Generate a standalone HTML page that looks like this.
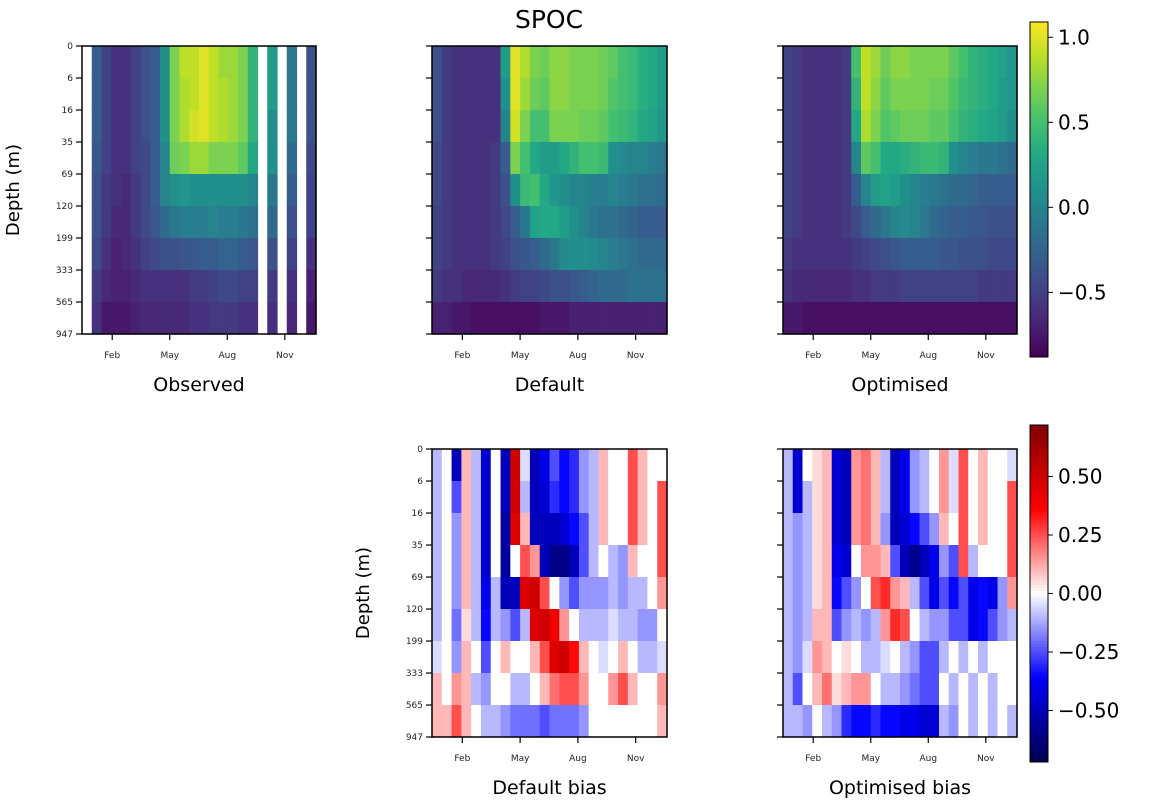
<!DOCTYPE html>
<html><head><meta charset="utf-8"><style>
body{margin:0;background:#fff;}
svg{display:block;font-family:"DejaVu Sans","Liberation Sans",sans-serif;}
</style></head><body>
<svg id="fig" width="1154" height="803" viewBox="0 0 1154 803" xmlns="http://www.w3.org/2000/svg">
<text x="549" y="28" font-size="25" text-anchor="middle">SPOC</text>
</svg>
<script>
const depthLabels=["0","6","16","35","69","120","199","333","565","947"];
const monthLabels=["Feb","May","Aug","Nov"];
const monthPos=[3.1,9.0,14.9,20.8];
const N=null;
const observed=[
[N,-0.3,-0.5,-0.6,-0.6,-0.5,-0.4,-0.3,0.1,0.7,0.9,0.9,1.0,0.9,0.8,0.8,0.7,0.4,N,0.2,N,-0.1,N,-0.4],
[N,-0.3,-0.5,-0.6,-0.6,-0.5,-0.4,-0.3,0.1,0.7,0.85,0.9,1.0,0.9,0.85,0.8,0.7,0.4,N,0.2,N,-0.1,N,-0.4],
[N,-0.3,-0.5,-0.6,-0.6,-0.5,-0.4,-0.3,0.1,0.7,0.85,0.95,1.0,0.9,0.85,0.8,0.7,0.4,N,0.1,N,-0.1,N,-0.4],
[N,-0.35,-0.5,-0.6,-0.6,-0.5,-0.45,-0.3,0.0,0.65,0.7,0.8,0.8,0.7,0.7,0.7,0.6,0.3,N,0.1,N,-0.2,N,-0.45],
[N,-0.4,-0.55,-0.6,-0.65,-0.55,-0.45,-0.3,0.0,0.1,0.15,0.1,0.1,0.1,0.1,0.1,0.1,0.0,N,-0.1,N,-0.3,N,-0.5],
[N,-0.4,-0.55,-0.65,-0.65,-0.55,-0.45,-0.35,-0.2,-0.1,-0.05,-0.05,-0.05,0.0,-0.05,-0.05,-0.1,-0.15,N,-0.2,N,-0.4,N,-0.5],
[N,-0.45,-0.6,-0.7,-0.65,-0.6,-0.5,-0.45,-0.4,-0.4,-0.35,-0.35,-0.3,-0.3,-0.25,-0.25,-0.3,-0.35,N,-0.4,N,-0.5,N,-0.6],
[N,-0.55,-0.65,-0.7,-0.7,-0.65,-0.6,-0.6,-0.6,-0.6,-0.6,-0.55,-0.55,-0.5,-0.45,-0.45,-0.5,-0.5,N,-0.55,N,-0.6,N,-0.7],
[N,-0.6,-0.75,-0.75,-0.75,-0.7,-0.65,-0.65,-0.65,-0.65,-0.65,-0.6,-0.6,-0.55,-0.55,-0.55,-0.6,-0.6,N,-0.6,N,-0.65,N,-0.75]];
const defaultRun=[
[-0.4,-0.55,-0.6,-0.6,-0.6,-0.6,-0.6,0.2,1.0,0.85,0.7,0.65,0.75,0.75,0.7,0.7,0.7,0.65,0.6,0.5,0.45,0.35,0.3,0.2],
[-0.4,-0.55,-0.6,-0.6,-0.6,-0.6,-0.6,0.1,1.0,0.8,0.65,0.6,0.75,0.75,0.7,0.7,0.7,0.65,0.55,0.5,0.45,0.35,0.3,0.2],
[-0.4,-0.55,-0.6,-0.6,-0.6,-0.6,-0.6,0.0,0.95,0.7,0.5,0.5,0.7,0.7,0.7,0.65,0.65,0.6,0.5,0.45,0.4,0.3,0.25,0.15],
[-0.45,-0.55,-0.6,-0.6,-0.6,-0.6,-0.55,-0.3,0.7,0.5,0.3,0.2,0.2,0.3,0.4,0.5,0.5,0.45,0.1,0.05,0.0,0.0,-0.05,-0.1],
[-0.45,-0.55,-0.6,-0.6,-0.6,-0.6,-0.55,-0.4,0.1,0.45,0.5,0.3,0.15,0.1,0.0,0.0,-0.05,-0.05,0.0,-0.05,-0.1,-0.15,-0.15,-0.2],
[-0.5,-0.55,-0.6,-0.6,-0.6,-0.6,-0.55,-0.45,-0.3,-0.1,0.25,0.3,0.3,0.2,0.1,0.0,-0.1,-0.15,-0.15,-0.2,-0.25,-0.3,-0.3,-0.3],
[-0.5,-0.55,-0.6,-0.6,-0.6,-0.6,-0.55,-0.5,-0.4,-0.35,-0.3,-0.2,-0.1,0.05,0.1,0.1,0.05,0.0,-0.05,-0.1,-0.15,-0.2,-0.2,-0.2],
[-0.55,-0.6,-0.6,-0.65,-0.65,-0.65,-0.65,-0.6,-0.55,-0.5,-0.5,-0.45,-0.4,-0.4,-0.35,-0.3,-0.25,-0.2,-0.2,-0.2,-0.15,-0.15,-0.15,-0.15],
[-0.7,-0.7,-0.75,-0.75,-0.8,-0.8,-0.8,-0.8,-0.8,-0.8,-0.8,-0.75,-0.75,-0.75,-0.7,-0.7,-0.7,-0.7,-0.7,-0.7,-0.7,-0.7,-0.7,-0.7]];
const optimisedRun=[
[-0.5,-0.55,-0.6,-0.6,-0.6,-0.6,-0.55,0.5,0.9,0.8,0.65,0.75,0.75,0.7,0.7,0.7,0.7,0.6,0.5,0.4,0.35,0.3,0.25,0.15],
[-0.5,-0.55,-0.6,-0.6,-0.6,-0.6,-0.55,0.4,0.9,0.75,0.6,0.7,0.7,0.7,0.7,0.65,0.65,0.55,0.45,0.4,0.35,0.3,0.2,0.15],
[-0.5,-0.55,-0.6,-0.6,-0.6,-0.6,-0.55,0.3,0.85,0.7,0.55,0.6,0.65,0.65,0.65,0.6,0.6,0.5,0.4,0.35,0.3,0.25,0.2,0.1],
[-0.5,-0.55,-0.6,-0.6,-0.6,-0.6,-0.55,0.0,0.6,0.5,0.3,0.3,0.35,0.4,0.45,0.45,0.4,0.1,0.0,-0.05,-0.1,-0.1,-0.15,-0.2],
[-0.5,-0.55,-0.6,-0.6,-0.6,-0.6,-0.55,-0.3,0.0,0.2,0.25,0.2,0.1,0.0,-0.05,-0.1,-0.15,-0.2,-0.2,-0.25,-0.3,-0.3,-0.3,-0.3],
[-0.5,-0.55,-0.6,-0.6,-0.6,-0.6,-0.55,-0.45,-0.3,-0.2,-0.1,0.0,0.05,0.0,-0.1,-0.2,-0.25,-0.3,-0.3,-0.35,-0.35,-0.4,-0.4,-0.4],
[-0.55,-0.6,-0.6,-0.6,-0.6,-0.6,-0.6,-0.55,-0.5,-0.45,-0.4,-0.35,-0.3,-0.3,-0.3,-0.3,-0.35,-0.35,-0.4,-0.4,-0.4,-0.45,-0.45,-0.45],
[-0.6,-0.65,-0.65,-0.65,-0.65,-0.65,-0.65,-0.6,-0.6,-0.55,-0.55,-0.55,-0.5,-0.5,-0.5,-0.5,-0.5,-0.5,-0.5,-0.5,-0.55,-0.55,-0.55,-0.55],
[-0.75,-0.75,-0.8,-0.8,-0.8,-0.8,-0.8,-0.8,-0.8,-0.8,-0.8,-0.8,-0.8,-0.8,-0.8,-0.8,-0.8,-0.8,-0.8,-0.8,-0.8,-0.8,-0.8,-0.8]];
const defaultBias=[
[-0.1,0.0,-0.5,0.1,-0.1,-0.45,0.0,-0.5,0.5,-0.05,-0.5,-0.4,-0.25,-0.35,-0.3,-0.15,-0.1,0.1,0.0,0.0,0.25,0.1,0.0,0.0],
[-0.1,0.0,-0.25,0.1,-0.1,-0.45,0.0,-0.5,0.5,-0.1,-0.5,-0.45,-0.3,-0.35,-0.3,-0.15,-0.1,0.1,0.0,0.0,0.25,0.1,0.0,0.25],
[-0.1,0.0,-0.15,0.1,-0.1,-0.45,0.0,-0.55,0.45,0.1,-0.5,-0.5,-0.5,-0.45,-0.35,-0.25,-0.1,0.1,0.0,0.0,0.25,0.1,0.0,0.25],
[-0.1,0.0,-0.15,0.1,-0.1,-0.45,0.0,-0.55,0.0,0.25,0.15,-0.5,-0.6,-0.6,-0.5,-0.25,-0.1,0.0,-0.1,-0.15,0.1,0.0,0.0,0.25],
[-0.1,0.0,-0.15,0.1,-0.1,-0.4,-0.1,-0.5,-0.5,0.45,0.5,0.25,0.0,-0.15,-0.25,-0.15,-0.15,-0.15,-0.1,-0.15,-0.1,-0.1,0.0,0.15],
[-0.1,0.0,-0.2,0.05,-0.1,-0.35,-0.1,-0.15,-0.25,-0.1,0.45,0.5,0.4,0.15,0.0,-0.1,-0.1,-0.1,-0.05,-0.1,-0.1,-0.15,-0.15,0.0],
[-0.05,0.0,-0.15,0.1,0.0,-0.25,0.0,0.1,0.0,0.0,0.1,0.25,0.45,0.5,0.35,0.1,0.0,-0.05,0.0,0.1,0.0,-0.1,-0.1,-0.05],
[0.1,0.0,0.15,0.1,-0.1,-0.15,0.0,0.0,-0.1,-0.1,0.0,0.1,0.2,0.25,0.25,0.15,0.0,0.0,0.15,0.25,0.1,0.0,0.0,0.15],
[0.1,0.1,0.25,0.1,0.0,-0.1,-0.1,-0.15,-0.2,-0.2,-0.2,-0.25,-0.2,-0.2,-0.2,-0.15,0.0,0.0,0.0,0.0,0.0,0.0,0.0,0.1]];
const optimisedBias=[
[-0.1,-0.45,0.0,0.05,0.1,-0.45,-0.5,0.15,0.2,0.1,-0.1,-0.5,-0.4,-0.15,-0.1,0.0,0.15,-0.05,0.25,0.0,0.1,0.0,0.0,-0.05],
[-0.1,-0.45,-0.1,0.05,0.1,-0.45,-0.5,0.15,0.2,0.1,-0.1,-0.5,-0.4,-0.15,-0.1,0.0,0.15,-0.05,0.25,0.0,0.1,0.0,0.0,0.25],
[-0.1,-0.15,-0.1,0.05,0.1,-0.45,-0.5,0.15,0.2,0.1,-0.15,-0.5,-0.45,-0.35,-0.25,-0.15,0.1,0.0,0.25,0.0,0.1,0.0,0.0,0.25],
[-0.1,-0.15,-0.1,0.05,0.1,-0.4,-0.45,0.0,0.15,0.15,0.1,-0.25,-0.5,-0.6,-0.5,-0.4,-0.15,-0.25,0.25,-0.1,0.0,0.0,0.0,0.25],
[-0.1,-0.15,-0.1,0.05,0.1,-0.35,-0.25,-0.15,0.0,0.25,0.3,0.15,0.1,-0.1,-0.25,-0.4,-0.25,-0.35,-0.25,-0.4,-0.35,-0.4,-0.15,0.15],
[-0.1,-0.15,-0.1,0.1,0.1,-0.25,-0.15,-0.1,-0.15,-0.1,0.15,0.3,0.25,0.0,-0.1,-0.15,-0.15,-0.25,-0.25,-0.4,-0.35,-0.25,-0.15,-0.1],
[-0.1,-0.15,-0.05,0.15,0.1,0.0,0.05,0.0,-0.1,-0.1,-0.05,0.0,-0.1,-0.15,-0.25,-0.25,-0.1,0.0,-0.1,0.0,-0.1,0.0,0.0,0.0],
[-0.1,-0.25,0.0,0.1,0.2,0.05,0.1,0.15,0.15,0.0,-0.1,-0.1,-0.15,-0.2,-0.25,-0.25,0.0,-0.1,0.0,-0.1,0.0,-0.1,0.0,0.0],
[-0.1,-0.1,-0.15,0.0,-0.1,-0.15,-0.3,-0.35,-0.35,-0.3,-0.35,-0.35,-0.4,-0.4,-0.45,-0.45,-0.1,-0.15,0.0,-0.1,0.0,-0.1,0.0,-0.1]];
const cbTopTicks=[1.0,0.5,0.0,-0.5];
const cbTopLabels=["1.0","0.5","0.0","\u22120.5"];
const cbBotTicks=[0.5,0.25,0,-0.25,-0.5];
const cbBotLabels=["0.50","0.25","0.00","\u22120.25","\u22120.50"];

const NS="http://www.w3.org/2000/svg";
const svg=document.getElementById('fig');
function mk(tag,attrs,parent){const e=document.createElementNS(NS,tag);for(const k in attrs)e.setAttribute(k,attrs[k]);(parent||svg).appendChild(e);return e;}
const VIR=[[68,1,84],[72,36,117],[65,68,135],[53,95,141],[42,120,142],[33,145,140],[34,168,132],[68,191,112],[122,209,81],[189,223,38],[253,231,37]];
function lerpStops(st,t){t=Math.max(0,Math.min(1,t));const n=st.length-1;const i=Math.min(n-1,Math.floor(t*n));const f=t*n-i;const a=st[i],b=st[i+1];return `rgb(${Math.round(a[0]+(b[0]-a[0])*f)},${Math.round(a[1]+(b[1]-a[1])*f)},${Math.round(a[2]+(b[2]-a[2])*f)})`;}
const SEI=[[0,0,77],[0,0,255],[255,255,255],[255,0,0],[128,0,0]];
const VMIN=-0.88,VMAX=1.09,BMAX=0.72;
function viridis(v){return lerpStops(VIR,(v-VMIN)/(VMAX-VMIN));}
function seismic(v){return lerpStops(SEI,(v+BMAX)/(2*BMAX));}

function panel(name,data,x0,y0,w,h,cmap,label,showY){
  const g=mk('g',{});
  
  
  const rows=data.length,cols=data[0].length;
  const xs=c=>x0+c*w/cols, ys=r=>y0+r*h/rows;
  data.forEach((row,r)=>row.forEach((v,c)=>{
    if(v===null)return;
    const rc=mk('rect',{x:xs(c).toFixed(2),y:ys(r).toFixed(2),width:(w/cols+0.6).toFixed(2),height:(h/rows+0.6).toFixed(2),fill:cmap(v)},g);
    
    
  }));
  const fr=mk('rect',{x:x0,y:y0,width:w,height:h,fill:'none',stroke:'#000','stroke-width':1.5},g);
  
  
  depthLabels.forEach((d,i)=>{
    const y=y0+i*h/(depthLabels.length-1);
    mk('line',{x1:x0-6,x2:x0,y1:y,y2:y,stroke:'#000','stroke-width':1.2},g);
    if(showY){const t=mk('text',{x:x0-9,y:y+3,'font-size':9,'text-anchor':'end',fill:'#222'},g);t.textContent=d;
      
      }
  });
  monthLabels.forEach((m,i)=>{
    const x=xs(monthPos[i]);
    mk('line',{x1:x,x2:x,y1:y0+h,y2:y0+h+6,stroke:'#000','stroke-width':1.2},g);
    const t=mk('text',{x:x,y:y0+h+24,'font-size':9,'text-anchor':'middle',fill:'#222'},g);t.textContent=m;
    
    
  });
  const lt=mk('text',{x:x0+w/2,y:y0+h+57,'font-size':19,'text-anchor':'middle'},g);lt.textContent=label;
  
  
  if(showY){const yt=mk('text',{x:0,y:0,'font-size':18,'text-anchor':'middle',transform:`translate(${x0-63},${y0+h/2}) rotate(-90)`},g);yt.textContent='Depth (m)';
    
    }
}
function colorbar(name,x,y0,y1,vmin,vmax,cmap,ticks,labels){
  const g=mk('g',{});
  
  
  const n=120,h=(y1-y0)/n;
  for(let i=0;i<n;i++){const v=vmax-(i+0.5)/n*(vmax-vmin);mk('rect',{x:x,y:(y0+i*h).toFixed(2),width:18,height:(h+0.5).toFixed(2),fill:cmap(v)},g);}
  mk('rect',{x:x,y:y0,width:18,height:y1-y0,fill:'none',stroke:'#000','stroke-width':1},g);
  const yv=v=>y0+(vmax-v)/(vmax-vmin)*(y1-y0);
  ticks.forEach((v,i)=>{const y=yv(v);mk('line',{x1:x+18,x2:x+23,y1:y,y2:y,stroke:'#000'},g);
    const t=mk('text',{x:x+28,y:y+7,'font-size':20},g);t.textContent=labels[i];
    
    });
}
panel('observed-heatmap',observed,82,46,234,288,viridis,'Observed',true);
panel('default-heatmap',defaultRun,432,46,235,288,viridis,'Default',false);
panel('optimised-heatmap',optimisedRun,783,46,234,288,viridis,'Optimised',false);
panel('default-bias-heatmap',defaultBias,432,449,235,288,seismic,'Default bias',true);
panel('optimised-bias-heatmap',optimisedBias,783,449,234,288,seismic,'Optimised bias',false);
colorbar('viridis-colorbar',1030,22,357,VMIN,VMAX,viridis,cbTopTicks,cbTopLabels);
colorbar('bias-colorbar',1030,425,762,-BMAX,BMAX,seismic,cbBotTicks,cbBotLabels);
</script>
</body></html>
